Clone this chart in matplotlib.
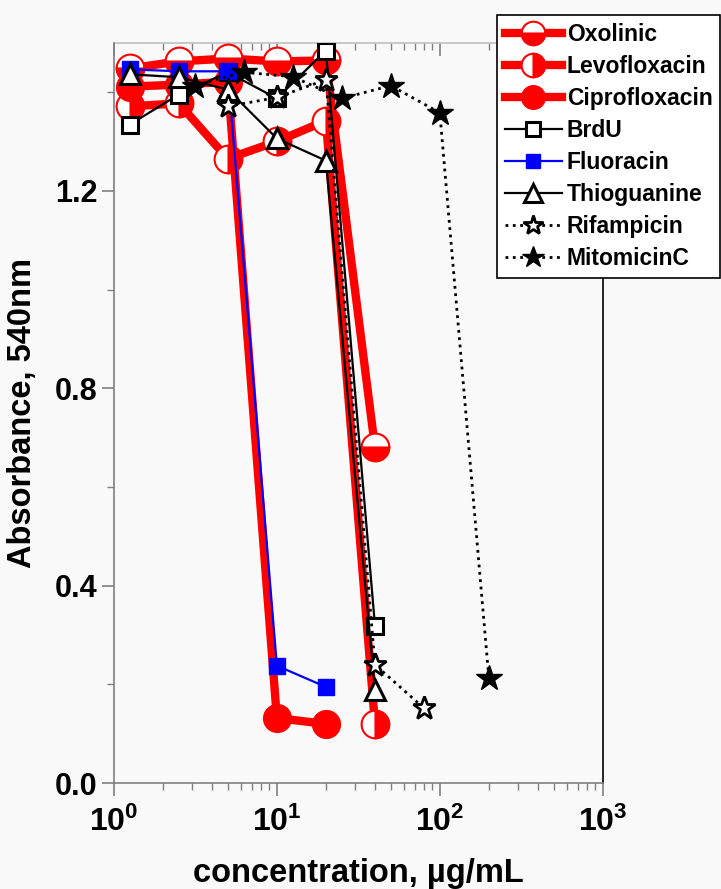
import numpy as np
import matplotlib
matplotlib.use("Agg")
from matplotlib import pyplot as plt
from matplotlib.ticker import LogLocator, FixedLocator, NullFormatter, FuncFormatter

plt.rcParams['font.family'] = ['Liberation Sans', 'DejaVu Sans']
plt.rcParams['font.weight'] = 'bold'
plt.rcParams['mathtext.fontset'] = 'custom'
plt.rcParams['mathtext.rm'] = 'Liberation Sans:bold'
plt.rcParams['mathtext.bf'] = 'Liberation Sans:bold'

# concentrations, ug/mL
conc_a = [1.25, 2.5, 5, 10, 20, 40]
conc_cipro = [1.25, 2.5, 5, 10, 20]
conc_rif = [5, 10, 20, 40, 80]
conc_mito = [3.125, 6.25, 12.5, 25, 50, 100, 200]

oxolinic = [1.448, 1.462, 1.468, 1.462, 1.464, 0.680]
levofloxacin = [1.371, 1.377, 1.265, 1.300, 1.342, 0.120]
ciprofloxacin = [1.411, 1.415, 1.421, 0.132, 0.120]
brdu = [1.334, 1.395, 1.440, 1.387, 1.484, 0.319]
fluoracin = [1.446, 1.442, 1.442, 0.238, 0.195]
thioguanine = [1.436, 1.430, 1.405, 1.306, 1.261, 0.189]
rifampicin = [1.371, 1.389, 1.425, 0.240, 0.152]
mitomicin = [1.413, 1.440, 1.431, 1.387, 1.413, 1.358, 0.213]

bg = '#f9f9f9'
fig = plt.figure(figsize=(7.21, 8.89), dpi=100, facecolor=bg)
ax = fig.add_axes([0.158, 0.119, 0.678, 0.833])
ax.set_facecolor(bg)

red = '#ff0000'
ax.plot(conc_a, oxolinic, color=red, lw=6, marker='o', ms=20, fillstyle='bottom',
        mfc=red, mfcalt='white', mec=red, mew=1.5, label='Oxolinic')
ax.plot(conc_a, levofloxacin, color=red, lw=6, marker='o', ms=20, fillstyle='right',
        mfc=red, mfcalt='white', mec=red, mew=1.5, label='Levofloxacin')
ax.plot(conc_cipro, ciprofloxacin, color=red, lw=6, marker='o', ms=20,
        mfc=red, mec=red, label='Ciprofloxacin')
ax.plot(conc_a, brdu, color='black', lw=1.6, marker='s', ms=12,
        mfc='white', mec='black', mew=2.2, label='BrdU')
ax.plot(conc_cipro, fluoracin, color='#0000ff', lw=1.6, marker='s', ms=12,
        mfc='#0000ff', mec='#0000ff', label='Fluoracin')
ax.plot(conc_a, thioguanine, color='black', lw=1.6, marker='^', ms=15,
        mfc='white', mec='black', mew=2.2, label='Thioguanine')
ax.plot(conc_rif, rifampicin, color='black', lw=2, ls=':', marker='*', ms=17,
        mfc='white', mec='black', mew=2, label='Rifampicin')
ax.plot(conc_mito, mitomicin, color='black', lw=2, ls=':', marker='*', ms=19,
        mfc='black', mec='black', label='MitomicinC')

ax.set_xscale('log')
ax.set_xlim(1, 1000)
ax.set_ylim(0, 1.5)

ax.xaxis.set_major_locator(FixedLocator([1, 10, 100, 1000]))
ax.xaxis.set_minor_locator(LogLocator(base=10, subs=np.arange(2, 10), numticks=20))
ax.xaxis.set_minor_formatter(NullFormatter())
ax.xaxis.set_major_formatter(FuncFormatter(lambda v, p: r'$\mathbf{10^{%d}}$' % round(np.log10(v))))
ax.set_yticks([0.0, 0.4, 0.8, 1.2])
ax.set_yticks(np.arange(0.2, 1.5, 0.4), minor=True)
ax.set_yticklabels(['0.0', '0.4', '0.8', '1.2'])

ax.tick_params(axis='both', which='major', direction='out', length=9, width=1.2,
               color='#808080', labelsize=22, pad=3)
ax.tick_params(axis='both', which='minor', direction='out', length=5, width=1,
               color='#808080')
ax.tick_params(axis='x', which='major', labelsize=23, pad=8)

# top axis: same ticks, pointing inward, no labels
top = ax.secondary_xaxis('top')
top.xaxis.set_major_locator(FixedLocator([1, 10, 100, 1000]))
top.xaxis.set_minor_locator(LogLocator(base=10, subs=np.arange(2, 10), numticks=20))
top.xaxis.set_major_formatter(NullFormatter())
top.xaxis.set_minor_formatter(NullFormatter())
top.tick_params(which='major', direction='in', length=9, width=1.2, color='#808080')
top.tick_params(which='minor', direction='in', length=5, width=1, color='#808080')
top.spines['top'].set_color('#c0c0c0')
top.spines['top'].set_linewidth(1.2)

for s in ['left', 'bottom']:
    ax.spines[s].set_color('#808080')
    ax.spines[s].set_linewidth(1.2)
ax.spines['top'].set_visible(False)
ax.spines['right'].set_color('black')
ax.spines['right'].set_linewidth(1.2)

ax.set_xlabel('concentration, \u00b5g/mL', fontsize=23.5, fontweight='bold', labelpad=14)
ax.set_ylabel('Absorbance, 540nm', fontsize=23.5, fontweight='bold', labelpad=12)

leg = fig.legend(loc='upper left', bbox_to_anchor=(0.689, 0.983), fontsize=16.5,
                 frameon=True, fancybox=False, edgecolor='black', facecolor='white',
                 framealpha=1, handlelength=2.5, handletextpad=0.2, labelspacing=0.39,
                 borderpad=0.35, borderaxespad=0, markerscale=0.85)
leg.get_frame().set_linewidth(1.2)

fig.savefig('out.png', dpi=100, facecolor=bg)
